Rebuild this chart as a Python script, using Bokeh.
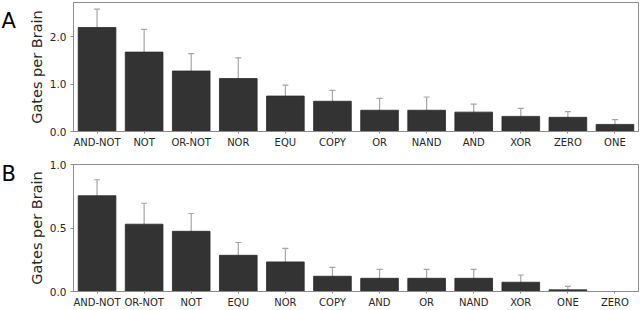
from bokeh.plotting import figure
from bokeh.models import FactorRange, Range1d, ColumnDataSource, Whisker, TeeHead, FixedTicker, NumeralTickFormatter
from bokeh.layouts import column, row
from bokeh.core.properties import value
from bokeh.embed import file_html
from bokeh.resources import INLINE

# Panel A data
gates_a = ["AND-NOT", "NOT", "OR-NOT", "NOR", "EQU", "COPY", "OR", "NAND", "AND", "XOR", "ZERO", "ONE"]
mean_a = [2.20, 1.68, 1.28, 1.12, 0.75, 0.64, 0.45, 0.45, 0.41, 0.32, 0.30, 0.15]
low_a = [1.81, 1.21, 0.92, 0.68, 0.51, 0.39, 0.20, 0.16, 0.24, 0.16, 0.16, 0.04]
high_a = [2.59, 2.16, 1.65, 1.56, 0.98, 0.87, 0.70, 0.73, 0.58, 0.49, 0.42, 0.25]

# Panel B data
gates_b = ["AND-NOT", "OR-NOT", "NOT", "EQU", "NOR", "COPY", "AND", "OR", "NAND", "XOR", "ONE", "ZERO"]
mean_b = [0.754, 0.53, 0.474, 0.285, 0.233, 0.12, 0.104, 0.104, 0.104, 0.073, 0.013, 0.0]
low_b = [0.63, 0.37, 0.33, 0.18, 0.13, 0.047, 0.04, 0.04, 0.04, 0.013, 0.0, 0.0]
high_b = [0.88, 0.695, 0.614, 0.386, 0.34, 0.19, 0.174, 0.174, 0.174, 0.13, 0.04, 0.0]

yticks_a = [0.0, 1.0, 2.0]
yticks_b = [0.0, 0.5, 1.0]
panel_letters = ["A", "B"]

FONT = "DejaVu Sans"
BAR = "#333333"
GRID = "#8c8c8c"
ERR = "#a6a6a6"
LETTER_W = 22


def letter_fig(letter, height, baseline_y):
    t = figure(width=LETTER_W, height=height, x_range=Range1d(0, LETTER_W), y_range=Range1d(height, 0),
               output_backend="svg", toolbar_location=None, x_axis_type=None, y_axis_type=None,
               min_border=0, outline_line_color=None)
    t.xgrid.visible = False
    t.ygrid.visible = False
    src = ColumnDataSource(dict(x=[1], y=[baseline_y], t=[letter]))
    t.text(x="x", y="y", text="t", source=src, text_font=value(FONT), text_font_size="21px",
           text_color="#000000", text_baseline="alphabetic", text_align="left")
    return t


def make_panel(gates, mean, low, high, ymax, ticks, height, top, bottom):
    p = figure(x_range=FactorRange(*gates, range_padding=0), y_range=Range1d(0, ymax),
               width=640 - LETTER_W, height=height, output_backend="svg", toolbar_location=None,
               min_border_left=73 - LETTER_W, min_border_right=2, min_border_top=top, min_border_bottom=bottom)
    src = ColumnDataSource(dict(g=gates, m=mean, lo=low, hi=high))
    p.vbar(x="g", top="m", width=0.8, source=src, fill_color=BAR, line_color="#2a2a2a", line_width=0.8)
    w = Whisker(base="g", lower="lo", upper="hi", source=src, line_color=ERR, line_width=1.2,
                upper_head=TeeHead(size=6, line_color=ERR, line_width=1.2),
                lower_head=TeeHead(size=6, line_color=ERR, line_width=1.2))
    p.add_layout(w)
    p.xgrid.visible = False
    p.ygrid.visible = False
    p.outline_line_color = GRID
    p.outline_line_width = 1
    p.background_fill_color = "white"
    p.border_fill_color = "white"

    p.yaxis.ticker = FixedTicker(ticks=ticks)
    p.yaxis.formatter = NumeralTickFormatter(format="0.0")
    p.yaxis.axis_label = "Gates per Brain"
    p.yaxis.axis_label_text_font = FONT
    p.yaxis.axis_label_text_font_style = "normal"
    p.yaxis.axis_label_text_font_size = "14.5px"
    p.yaxis.axis_label_text_color = "#262626"
    p.yaxis.axis_label_standoff = 2
    p.yaxis.major_label_text_font = FONT
    p.yaxis.major_label_text_font_size = "10.5px"
    p.yaxis.major_label_text_color = "#262626"
    p.yaxis.major_label_standoff = 4
    p.yaxis.minor_tick_line_color = None
    p.yaxis.major_tick_out = 3
    p.yaxis.major_tick_in = 0
    p.yaxis.major_tick_line_color = GRID
    p.yaxis.axis_line_color = GRID

    p.xaxis.major_label_text_font = FONT
    p.xaxis.major_label_text_font_size = "10px"
    p.xaxis.major_label_text_color = "#262626"
    p.xaxis.major_label_standoff = 3
    p.xaxis.major_tick_out = 2
    p.xaxis.major_tick_in = 0
    p.xaxis.major_tick_line_color = GRID
    p.xaxis.axis_line_color = GRID
    return p


pa = make_panel(gates_a, mean_a, low_a, high_a, 2.73, yticks_a, 150, 2, 19)
pb = make_panel(gates_b, mean_b, low_b, high_b, 1.0, yticks_b, 160, 14, 17)
la = letter_fig(panel_letters[0], 150, 22)
lb = letter_fig(panel_letters[1], 160, 12)

layout = column(row(la, pa, spacing=0), row(lb, pb, spacing=0), spacing=0)
open("out.html", "w").write(file_html(layout, INLINE))
